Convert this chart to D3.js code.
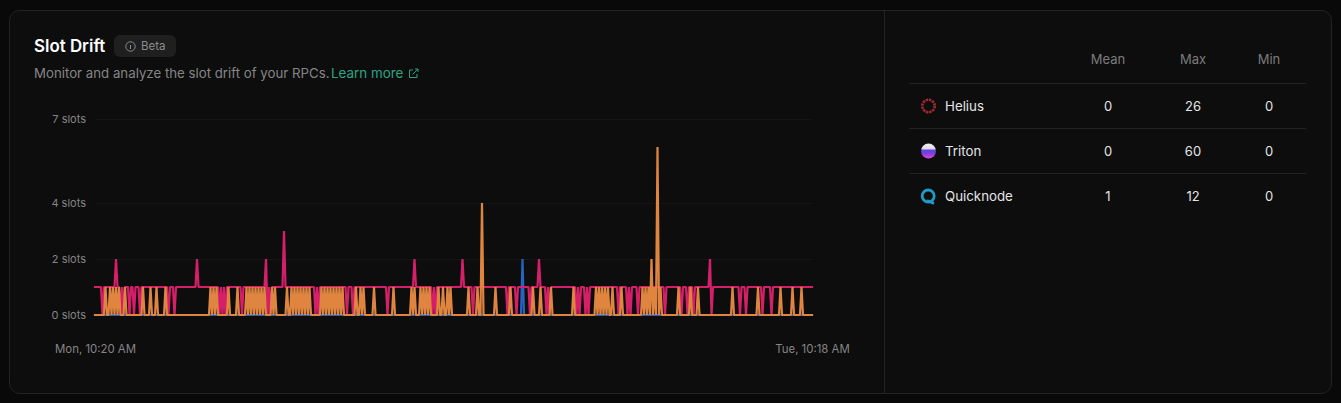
<!DOCTYPE html>
<html>
<head>
<meta charset="utf-8">
<script src="https://cdn.jsdelivr.net/npm/d3@7"></script>
<style>
  html, body { margin: 0; padding: 0; background: #090909; overflow: hidden; }
  svg { display: block; }
  text { font-family: Inter, "Liberation Sans", sans-serif; }
</style>
</head>
<body>
<div id="chart"></div>
<script>
// samples are evenly spaced readings
var sampleCount = 479;
var yTicks = [0, 2, 4, 7];

// pink sits at 1 slot and dips to 0 at these samples
var pinkDips = [5, 17, 19, 23, 26, 30, 49, 53, 83, 85, 87, 98, 115, 117, 147, 149, 168, 172, 195, 225, 227, 252, 275, 281, 290, 301, 303, 321, 323, 327, 329, 349, 355, 357, 362, 380, 391, 395, 399, 411, 430, 434, 445, 451];
var pinkPeaks = [[14, 2], [68, 2], [114, 2], [126, 3], [213, 2], [245, 2], [296, 2], [410, 2]];

// orange sits at 0 and jumps to 1 at these samples
var orangeRises = [7, 10, 12, 14, 16, 20, 32, 37, 41, 47, 77, 79, 81, 89, 95, 101, 103, 105, 107, 109, 111, 113, 118, 120, 128, 131, 133, 135, 137, 139, 141, 143, 151, 153, 155, 157, 159, 161, 163, 165, 174, 177, 179, 186, 199, 211, 213, 217, 219, 221, 223, 229, 232, 235, 237, 249, 255, 267, 277, 292, 297, 304, 319, 334, 336, 338, 340, 342, 345, 351, 365, 367, 369, 373, 377, 389, 397, 402, 425, 442, 457, 465, 471];
var orangePeaks = [[258, 4], [371, 2], [375, 6]];

var bluePeaks = [[285, 2]];

// table on the right
var providers = ["Helius", "Triton", "Quicknode"];
var means = [0, 0, 1];
var maxes = [26, 60, 12];
var mins = [0, 0, 0];
var columns = ["Mean", "Max", "Min"];

const width = 1341, height = 403;
const startTime = new Date(2025, 0, 6, 10, 20);
const endTime = new Date(2025, 0, 7, 10, 18);

function timeOf(i) {
  return new Date(+startTime + i * (endTime - startTime) / (sampleCount - 1));
}

function buildSeries(base, flips, flipTo, peaks) {
  var vals = d3.range(sampleCount).map(function() { return base; });
  flips.forEach(function(i) { vals[i] = flipTo; });
  peaks.forEach(function(p) { vals[p[0]] = p[1]; });
  return vals;
}

var series = [
  { color: "#2563c4", values: buildSeries(0, [], 0, bluePeaks) },
  { color: "#d61f69", values: buildSeries(1, pinkDips, 0, pinkPeaks) },
  { color: "#e0853f", values: buildSeries(0, orangeRises, 1, orangePeaks) }
];

const svg = d3.select("#chart").append("svg")
  .attr("width", width)
  .attr("height", height);

// card
svg.append("rect")
  .attr("x", 9.5).attr("y", 10.5)
  .attr("width", 1322).attr("height", 383)
  .attr("rx", 10)
  .attr("fill", "#0d0d0e")
  .attr("stroke", "#232323");

svg.append("line")
  .attr("x1", 884.5).attr("x2", 884.5)
  .attr("y1", 11).attr("y2", 393)
  .attr("stroke", "#232323");

// header
svg.append("text").attr("x", 34).attr("y", 52)
  .attr("fill", "#fff").attr("font-size", 16.9).attr("font-weight", 600)
  .text("Slot Drift");

svg.append("rect")
  .attr("x", 114).attr("y", 35).attr("width", 62).attr("height", 22)
  .attr("rx", 6).attr("fill", "#1f1f1f");
svg.append("circle")
  .attr("cx", 130.5).attr("cy", 46.5).attr("r", 4.7)
  .attr("fill", "none").attr("stroke", "#8c8c8c");
svg.append("line")
  .attr("x1", 130.5).attr("x2", 130.5).attr("y1", 45).attr("y2", 49)
  .attr("stroke", "#8c8c8c");
svg.append("text").attr("x", 141).attr("y", 50)
  .attr("fill", "#8c8c8c").attr("font-size", 11.5)
  .text("Beta");

svg.append("text").attr("x", 34).attr("y", 78)
  .attr("fill", "#858585").attr("font-size", 13.25)
  .text("Monitor and analyze the slot drift of your RPCs.");
svg.append("text").attr("x", 331).attr("y", 78)
  .attr("fill", "#2ba583").attr("font-size", 13.4)
  .text("Learn more");

// external link icon
svg.append("path")
  .attr("d", "M413 70h-3.5v7.5h7.5V74M412.5 74.5l5.5-5.5M415 69h3v3")
  .attr("fill", "none").attr("stroke", "#2ba583").attr("stroke-width", 1);

// scales
const x = d3.scaleTime().domain([startTime, endTime]).range([95, 812]);
const y = d3.scaleLinear().domain([0, 7]).range([315, 119]);

// grid
svg.append("g").selectAll("line")
  .data(yTicks.filter(function(d) { return d > 0; }))
  .enter().append("line")
  .attr("x1", 95).attr("x2", 812)
  .attr("y1", function(d) { return y(d) + 0.5; })
  .attr("y2", function(d) { return y(d) + 0.5; })
  .attr("stroke", "#151515");

// axes
const yAxis = d3.axisLeft(y)
  .tickValues(yTicks)
  .tickSize(0)
  .tickPadding(9)
  .tickFormat(function(d) { return d + " slots"; });
svg.append("g").attr("transform", "translate(95,0)").call(yAxis)
  .call(function(g) { g.select(".domain").remove(); })
  .selectAll("text").attr("fill", "#858585").attr("font-size", 11)
  .style("font-family", "Inter, sans-serif");

const xAxis = d3.axisBottom(x)
  .tickValues([startTime, endTime])
  .tickSize(0)
  .tickPadding(15)
  .tickFormat(d3.timeFormat("%a, %I:%M %p"));
svg.append("g").attr("transform", "translate(0,330)").call(xAxis)
  .call(function(g) { g.select(".domain").remove(); })
  .selectAll("text").attr("fill", "#858585").attr("font-size", 11.4)
  .style("font-family", "Inter, sans-serif");

// lines
const line = d3.line()
  .x(function(d, i) { return x(timeOf(i)); })
  .y(function(d) { return y(d); });

svg.append("g").selectAll("path")
  .data(series)
  .enter().append("path")
  .attr("d", function(d) { return line(d.values); })
  .attr("fill", "none")
  .attr("stroke", function(d) { return d.color; })
  .attr("stroke-width", 2.2)
  .attr("stroke-linejoin", "bevel")
  .attr("stroke-linecap", "square");

// table
const colX = d3.scaleOrdinal().domain(columns).range([1108, 1193, 1269]);
const rowY = d3.scalePoint().domain(providers).range([106, 196]);

svg.append("g").selectAll("text")
  .data(columns)
  .enter().append("text")
  .attr("x", function(d) { return colX(d); })
  .attr("y", 63.5)
  .attr("text-anchor", "middle")
  .attr("fill", "#7b7b7b")
  .attr("font-size", 13)
  .text(function(d) { return d; });

svg.append("g").selectAll("line")
  .data(providers)
  .enter().append("line")
  .attr("x1", 909).attr("x2", 1306)
  .attr("y1", function(d) { return rowY(d) - 22.5; })
  .attr("y2", function(d) { return rowY(d) - 22.5; })
  .attr("stroke", "#232323");

const rows = svg.append("g").selectAll("g")
  .data(providers)
  .enter().append("g")
  .attr("transform", function(d) { return "translate(0," + rowY(d) + ")"; });

rows.append("text")
  .attr("x", 945).attr("y", 4.5)
  .attr("fill", "#e4e4e4").attr("font-size", 13.3)
  .text(function(d) { return d; });

columns.forEach(function(col, c) {
  var vals = [means, maxes, mins][c];
  rows.append("text")
    .attr("x", colX(col)).attr("y", 4.5)
    .attr("text-anchor", "middle")
    .attr("fill", "#e4e4e4").attr("font-size", 13)
    .text(function(d, i) { return vals[i]; });
});

// provider icons
const grad = svg.append("defs").append("linearGradient")
  .attr("id", "triton").attr("x1", 0).attr("x2", 0).attr("y1", 0).attr("y2", 1);
[[0, "#f2eef5"], [0.35, "#e2dcec"], [0.45, "#5a48d8"], [0.65, "#7a3ee0"], [1, "#e244dc"]].forEach(function(s) {
  grad.append("stop").attr("offset", s[0]).attr("stop-color", s[1]);
});

svg.append("circle")
  .attr("cx", 928.5).attr("cy", rowY("Helius")).attr("r", 6.2)
  .attr("fill", "none").attr("stroke", "#9c2a30").attr("stroke-width", 2.6)
  .attr("stroke-dasharray", "2.4 0.8");

svg.append("circle")
  .attr("cx", 928.5).attr("cy", rowY("Triton")).attr("r", 7.5)
  .attr("fill", "url(#triton)");

const qy = rowY("Quicknode");
svg.append("circle")
  .attr("cx", 928.2).attr("cy", qy).attr("r", 6)
  .attr("fill", "none").attr("stroke", "#1f9bc6").attr("stroke-width", 2.8);
svg.append("path")
  .attr("d", "M927 " + (qy + 4.5) + "L934 " + (qy + 7.5))
  .attr("fill", "none").attr("stroke", "#1f9bc6").attr("stroke-width", 2.6);
</script>
</body>
</html>
